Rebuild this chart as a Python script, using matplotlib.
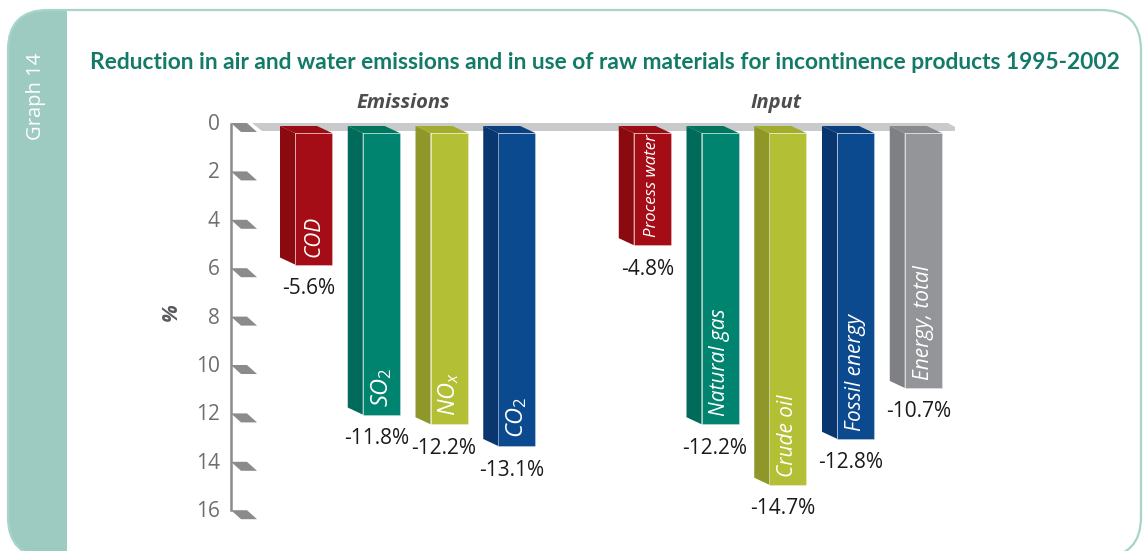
import matplotlib
matplotlib.use("Agg")
import matplotlib.pyplot as plt
from matplotlib.patches import Polygon, FancyBboxPatch, Rectangle
from matplotlib.transforms import IdentityTransform

plt.rcParams['font.family'] = ['Open Sans', 'DejaVu Sans']
plt.rcParams['mathtext.fontset'] = 'custom'
plt.rcParams['mathtext.rm'] = 'Open Sans'
plt.rcParams['mathtext.it'] = 'Open Sans:italic'

# ---------------- data ----------------
title = "Reduction in air and water emissions and in use of raw materials for incontinence products 1995-2002"
groups = ["Emissions", "Input"]
categories = ["COD", r"$SO_2$", r"$NO_x$", r"$CO_2$",
              "Process water", "Natural gas", "Crude oil", "Fossil energy", "Energy, total"]
category_group = [0, 0, 0, 0, 1, 1, 1, 1, 1]
values = [5.6, 11.8, 12.2, 13.1, 4.8, 12.2, 14.7, 12.8, 10.7]
value_labels = ["-5.6%", "-11.8%", "-12.2%", "-13.1%", "-4.8%", "-12.2%", "-14.7%", "-12.8%", "-10.7%"]
yticks = [0, 2, 4, 6, 8, 10, 12, 14, 16]
ylabel = "%"

# ---------------- styles ----------------
palette = {  # front, side, top
    "red":   ("#a50d16", "#8a0a0f", "#9a0b13"),
    "teal":  ("#00836f", "#006b5b", "#00765f"),
    "lime":  ("#b3bf34", "#8f9729", "#a2ad2e"),
    "blue":  ("#0b4a8f", "#0a3670", "#0a4080"),
    "grey":  ("#939598", "#7e8083", "#888a8d"),
}
bar_colors = ["red", "teal", "lime", "blue", "red", "teal", "lime", "blue", "grey"]
TEAL_TITLE = "#127a67"
STRIP = "#9dcac1"
FRAME = "#a8d4cb"
AXGREY = "#8a8b8d"

W, H = 1143, 551
fig = plt.figure(figsize=(W / 100, H / 100), dpi=100)
PX = IdentityTransform()   # display pixels, origin bottom-left


def py(y_top):
    """pixel row measured from the top -> display y"""
    return H - y_top


# frame and side strip (pixel space)
frame = FancyBboxPatch((8, py(557)), 1133, 547, boxstyle="round,pad=0,rounding_size=40",
                       facecolor="white", edgecolor="none", transform=PX, zorder=0)
fig.add_artist(frame)
strip = Rectangle((0, 0), 67, H, facecolor=STRIP, edgecolor="none", transform=PX, zorder=1)
fig.add_artist(strip)
strip.set_clip_path(frame)
outline = FancyBboxPatch((8, py(557)), 1133, 547, boxstyle="round,pad=0,rounding_size=40",
                         facecolor="none", edgecolor=FRAME, linewidth=1.6, transform=PX, zorder=2)
fig.add_artist(outline)
fig.text(36, py(96), "Graph 14", rotation=90, color="white", fontsize=14.5,
         ha="center", va="center", transform=PX, zorder=3)
fig.text(90, py(69), title, color=TEAL_TITLE, fontsize=16.4, fontweight="bold",
         family=["Lato", "DejaVu Sans"], ha="left", va="baseline", transform=PX, zorder=3)

# ---------------- chart axes ----------------
PX_X = 67.75     # pixels per slot
PX_Y = 24.2      # pixels per value unit
X0 = 313.5       # pixel of slot 0 front centre
Y0 = 122.0       # pixel of value 0
left_px, right_px, top_px, bot_px = 180, 1000, 85, 540
ax = fig.add_axes([left_px / W, (H - bot_px) / H, (right_px - left_px) / W, (bot_px - top_px) / H])
ax.set_xlim((left_px - X0) / PX_X, (right_px - X0) / PX_X)
ax.set_ylim((bot_px - Y0) / PX_Y, (top_px - Y0) / PX_Y)
ax.patch.set_alpha(0)
ax.set_zorder(5)


def dx(px):
    return px / PX_X


def dy(px):
    return px / PX_Y


for s in ["top", "right", "bottom"]:
    ax.spines[s].set_visible(False)
spine_x = (231 - X0) / PX_X
ax.spines["left"].set_position(("data", spine_x))
ax.spines["left"].set_color(AXGREY)
ax.spines["left"].set_linewidth(1.8)
ax.spines["left"].set_bounds(dy(2), 16 + dy(1))
ax.set_xticks([])
ax.set_yticks(yticks)
ax.set_yticklabels([str(t) for t in yticks])
ax.tick_params(axis="y", length=0, pad=8, labelsize=15, labelcolor="#6d6e71")
ax.set_ylabel(ylabel, fontsize=15, fontweight="bold", fontstyle="italic",
              color="#58595b", labelpad=10)

# slanted tick markers
for t in yticks:
    ax.add_patch(Polygon([(spine_x, t + dy(1)), (spine_x + dx(16), t + dy(1)),
                          (spine_x + dx(26), t + dy(10)), (spine_x + dx(10), t + dy(10))],
                         closed=True, facecolor=AXGREY, edgecolor="none", zorder=3))

# grey platform at zero
ax.add_patch(Polygon([((252 - X0) / PX_X, dy(1)), ((948 - X0) / PX_X, dy(1)),
                      ((955 - X0) / PX_X, dy(5)), ((955 - X0) / PX_X, dy(9)),
                      ((262 - X0) / PX_X, dy(9))],
                     closed=True, facecolor="#c9cacc", edgecolor="none", zorder=1))

# bar positions: 4 emissions, gap, 5 inputs
positions = []
p = 0
for i, g in enumerate(category_group):
    if i > 0 and g != category_group[i - 1]:
        p += 1
    positions.append(p)
    p += 1

half_w = dx(18.5)
side_w = dx(15)
depth = dy(7)
back_top = dy(4)
front_top = back_top + depth

renderer = fig.canvas.get_renderer()
for cx, v, cname, cat, lab in zip(positions, values, bar_colors, categories, value_labels):
    front, side, top = palette[cname]
    ax.bar(cx, v + depth - front_top, bottom=front_top, width=2 * half_w,
           color=front, edgecolor="#ffffff55", linewidth=0.6, zorder=4)
    ax.add_patch(Polygon([(cx - half_w - side_w, back_top), (cx - half_w, front_top),
                          (cx - half_w, v + depth), (cx - half_w - side_w, v)],
                         closed=True, facecolor=side, edgecolor="none", zorder=4))
    ax.add_patch(Polygon([(cx - half_w - side_w, back_top), (cx + half_w - side_w, back_top),
                          (cx + half_w, front_top), (cx - half_w, front_top)],
                         closed=True, facecolor=top, edgecolor="none", zorder=4))
    fs = 17 if cat.startswith("$") else 15
    t = ax.text(cx, v + depth - dy(8), cat, rotation=90, color="white", fontsize=fs,
                fontstyle="italic", ha="center", va="bottom", zorder=5)
    # shrink to fit inside the front face when the bar is short
    avail = (v + depth - front_top) * PX_Y - 9
    ext = t.get_window_extent(renderer=renderer).height
    if ext > avail:
        t.set_fontsize(fs * avail / ext)
    ax.text(cx - dx(5), v + dy(31), lab, fontsize=15, color="#1a1a1a",
            ha="center", va="center", zorder=5)

# group headings
for gi, gname in enumerate(groups):
    xs = [positions[i] for i, g in enumerate(category_group) if g == gi]
    xc = (min(xs) + max(xs)) / 2 - dx(12)
    ax.text(xc, dy(-19), gname, fontsize=14.5, fontweight="bold", fontstyle="italic",
            color="#4d4d4f", ha="center", va="center")

fig.savefig("out.png", dpi=100)
